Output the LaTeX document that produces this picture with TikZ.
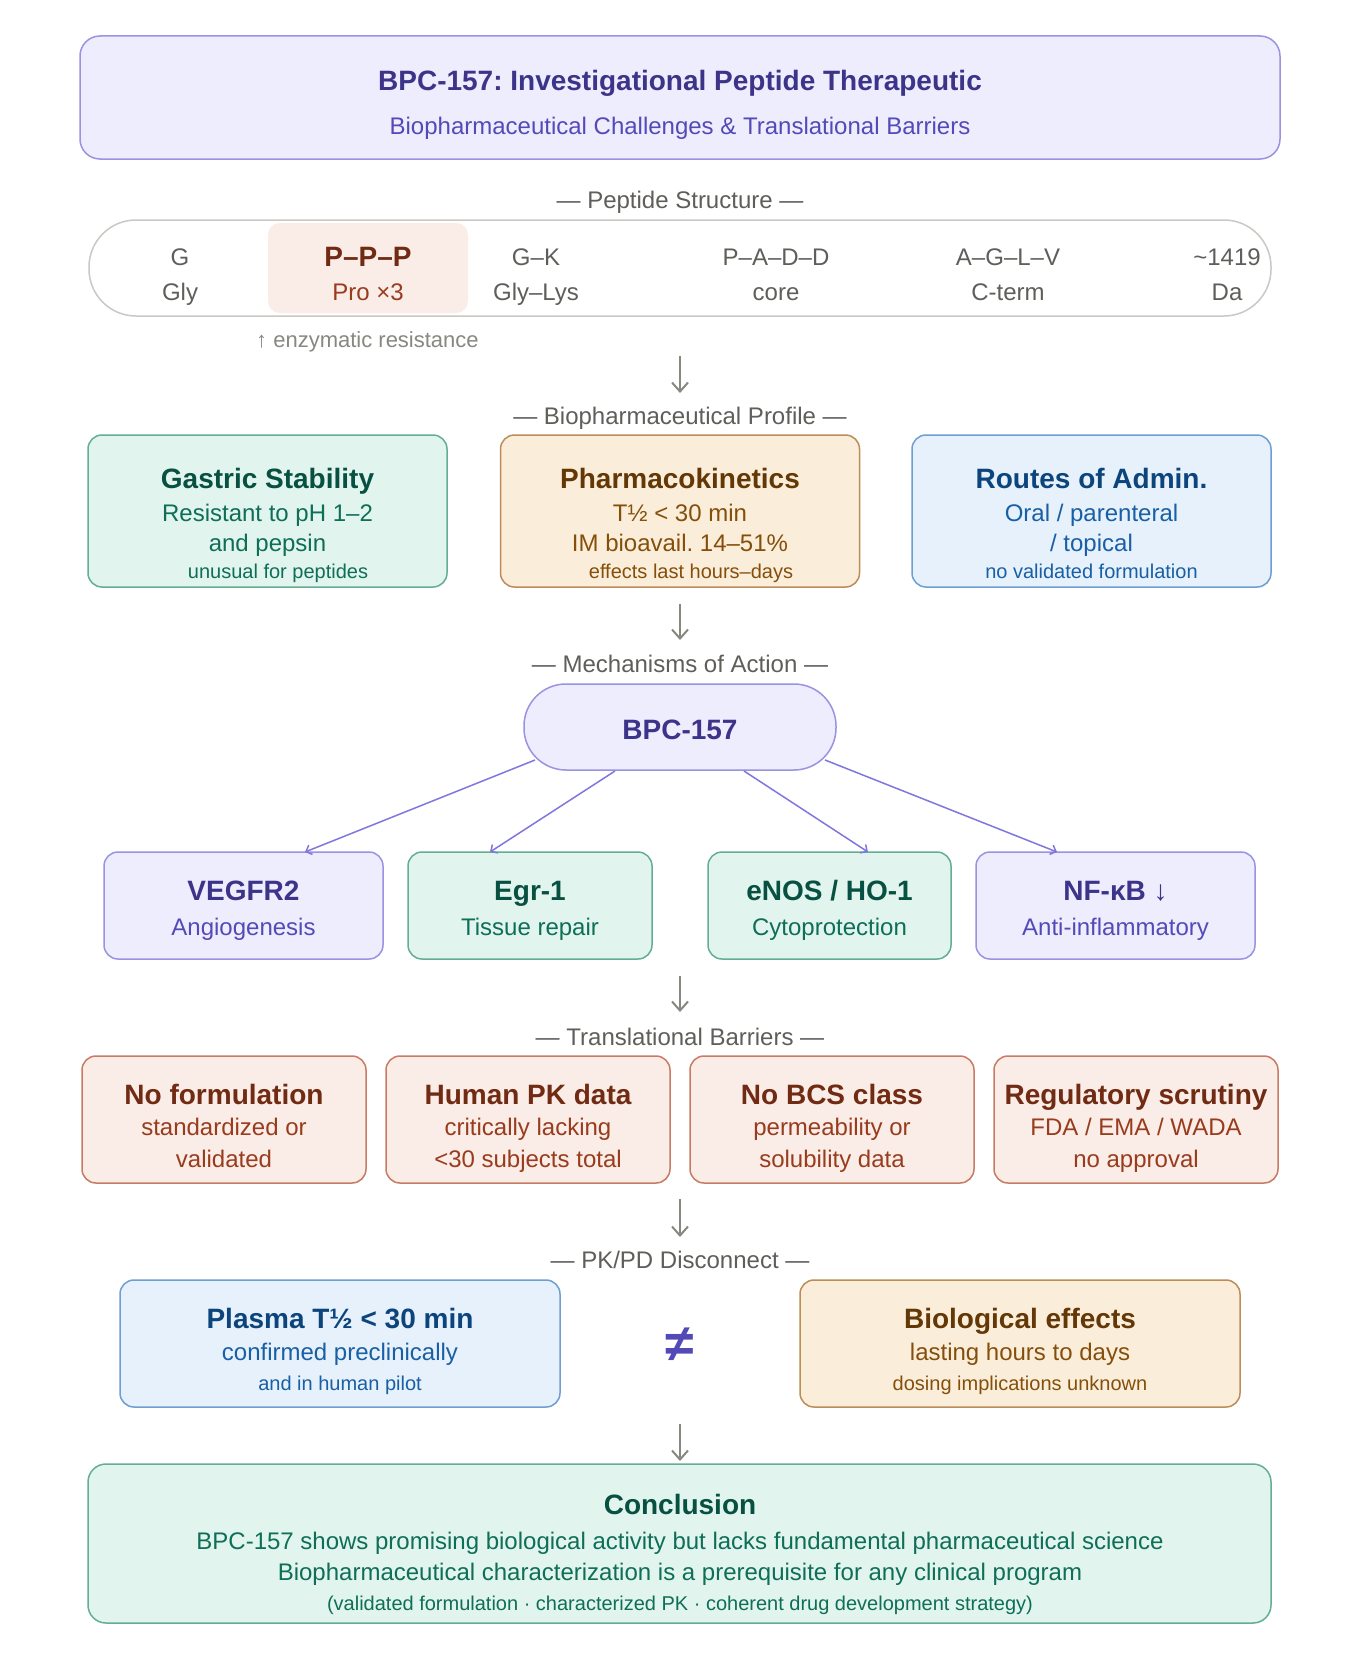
\documentclass[tikz,border=0pt]{standalone}
\usepackage{fontspec}
\setmainfont{Liberation Sans}
\usetikzlibrary{arrows.meta}
\frenchspacing
\definecolor{puFill}{HTML}{EEEDFE}\definecolor{puLine}{HTML}{9A92E2}\definecolor{puDark}{HTML}{3C3489}\definecolor{puText}{HTML}{534AB7}
\definecolor{teFill}{HTML}{E1F5EE}\definecolor{teLine}{HTML}{63AE94}\definecolor{teDark}{HTML}{085041}\definecolor{teText}{HTML}{0F6E56}
\definecolor{amFill}{HTML}{FAEEDA}\definecolor{amLine}{HTML}{BC8D58}\definecolor{amDark}{HTML}{633806}\definecolor{amText}{HTML}{854F0B}
\definecolor{blFill}{HTML}{E6F1FB}\definecolor{blLine}{HTML}{6E9ED2}\definecolor{blDark}{HTML}{0C447C}\definecolor{blText}{HTML}{185FA5}
\definecolor{coFill}{HTML}{FAECE7}\definecolor{coLine}{HTML}{C87B63}\definecolor{coDark}{HTML}{712B13}\definecolor{coText}{HTML}{993C1D}
\definecolor{grText}{HTML}{5F5E5A}\definecolor{grArrow}{HTML}{888780}\definecolor{grLine}{HTML}{CAC8C2}\definecolor{mecArrow}{HTML}{7F77DD}
\newcommand\fbig{\fontsize{28}{32}\selectfont\bfseries}
\newcommand\fmid{\fontsize{24}{28}\selectfont}
\newcommand\fsec{\fontsize{24}{28}\selectfont}
\newcommand\fsmall{\fontsize{20}{24}\selectfont}
\begin{document}
\begin{tikzpicture}[x=1pt,y=-1pt,
  bx/.style={rectangle,rounded corners=14pt,line width=1.5pt,inner sep=0pt,minimum width=#1},
  pubox/.style={bx=#1,fill=puFill,draw=puLine},
  tebox/.style={bx=#1,fill=teFill,draw=teLine},
  ambox/.style={bx=#1,fill=amFill,draw=amLine},
  blbox/.style={bx=#1,fill=blFill,draw=blLine},
  cobox/.style={bx=#1,fill=coFill,draw=coLine},
  tx/.style={anchor=base,inner sep=0pt},
  tbig/.style={tx,font=\fbig},
  tmid/.style={tx,font=\fmid},
  tsmall/.style={tx,font=\fsmall},
  tsec/.style={tx,font=\fsec,text=grText},
  flow/.style={draw=grArrow,line width=2pt,-{Straight Barb[length=9pt,width=16pt,line width=2pt]}},
  mech/.style={draw=mecArrow,line width=1.5pt,-{Straight Barb[length=5pt,width=10pt,line width=1.5pt]}}
]
\path[use as bounding box,fill=white] (0,0) rectangle (1360,1678);

% Title
\node[pubox=1200pt,minimum height=123pt,rounded corners=20pt] (title) at (680,97.5) {};
\node[tbig,text=puDark] (title-t) at (680,90) {BPC-157: Investigational Peptide Therapeutic};
\node[tmid,text=puText] (title-s) at (680,134) {Biopharmaceutical Challenges \& Translational Barriers};

% Peptide structure
\node[tsec] (sec1) at (680,208.5) {— Peptide Structure —};
\node[rectangle,rounded corners=47pt,draw=grLine,fill=white,line width=1.5pt,minimum width=1182pt,minimum height=96pt,inner sep=0pt] (pill) at (680,268) {};
\node[rectangle,rounded corners=12pt,fill=coFill,minimum width=200pt,minimum height=90pt,inner sep=0pt] (hl) at (368,268) {};
\node[tmid,text=grText] (p1a) at (180,265.6) {G};
\node[tmid,text=grText] (p1b) at (180,300.6) {Gly};
\node[tbig,text=coDark] (p2a) at (368,266.5) {P–P–P};
\node[tmid,text=coText] (p2b) at (368,300.6) {Pro ×3};
\node[tmid,text=grText] (p3a) at (536,265.6) {G–K};
\node[tmid,text=grText] (p3b) at (536,300.6) {Gly–Lys};
\node[tmid,text=grText] (p4a) at (776,265.6) {P–A–D–D};
\node[tmid,text=grText] (p4b) at (776,300.6) {core};
\node[tmid,text=grText] (p5a) at (1008,265.6) {A–G–L–V};
\node[tmid,text=grText] (p5b) at (1008,300.6) {C-term};
\node[tmid,text=grText] (p6a) at (1227,265.6) {\textasciitilde1419};
\node[tmid,text=grText] (p6b) at (1227,300.6) {Da};
\node[tx,font=\fontsize{22}{26}\selectfont,text=grArrow,anchor=base west] (enz) at (256,347.5) {↑ enzymatic resistance};

\coordinate (a1s) at (680,356); \coordinate (a1e) at (680,393);
\draw[flow] (a1s) -- (a1e);

% Biopharmaceutical profile
\node[tsec] (sec2) at (680,424.5) {— Biopharmaceutical Profile —};
\node[tebox=359pt,minimum height=152pt] (gs) at (267.5,511) {};
\node[tbig,text=teDark] (gs-t) at (267.5,488) {Gastric Stability};
\node[tmid,text=teText] (gs-1) at (267.5,521.6) {Resistant to pH 1–2};
\node[tmid,text=teText] (gs-2) at (267.5,551.6) {and pepsin};
\node[tsmall,text=teText] (gs-3) at (278,578.5) {unusual for peptides};

\node[ambox=359pt,minimum height=152pt] (pk) at (680,511) {};
\node[tbig,text=amDark] (pk-t) at (680,488) {Pharmacokinetics};
\node[tmid,text=amText] (pk-1) at (680,521.6) {T½ < 30 min};
\node[tmid,text=amText] (pk-2) at (680,551.6) {IM bioavail. 14–51\%};
\node[tsmall,text=amText] (pk-3) at (691,578.5) {effects last hours–days};

\node[blbox=359pt,minimum height=152pt] (ra) at (1091.5,511) {};
\node[tbig,text=blDark] (ra-t) at (1091.5,488) {Routes of Admin.};
\node[tmid,text=blText] (ra-1) at (1091.5,521.6) {Oral / parenteral};
\node[tmid,text=blText] (ra-2) at (1091.5,551.6) {/ topical};
\node[tsmall,text=blText] (ra-3) at (1091.5,578.5) {no validated formulation};

\coordinate (a2s) at (680,604); \coordinate (a2e) at (680,640);
\draw[flow] (a2s) -- (a2e);

% Mechanisms
\node[tsec] (sec3) at (680,672.5) {— Mechanisms of Action —};
\node[pubox=312pt,minimum height=86pt,rounded corners=42pt] (bpc) at (680,727) {};
\node[tbig,text=puDark] (bpc-t) at (680,739) {BPC-157};

\node[pubox=279pt,minimum height=107pt] (vegf) at (243.5,905.5) {};
\node[tbig,text=puDark] (vegf-t) at (243.5,900) {VEGFR2};
\node[tmid,text=puText] (vegf-s) at (243.5,935.6) {Angiogenesis};
\node[tebox=244pt,minimum height=107pt] (egr) at (530,905.5) {};
\node[tbig,text=teDark] (egr-t) at (530,900) {Egr-1};
\node[tmid,text=teText] (egr-s) at (530,935.6) {Tissue repair};
\node[tebox=243pt,minimum height=107pt] (enos) at (829.5,905.5) {};
\node[tbig,text=teDark] (enos-t) at (829.5,900) {eNOS / HO-1};
\node[tmid,text=teText] (enos-s) at (829.5,935.6) {Cytoprotection};
\node[pubox=279pt,minimum height=107pt] (nfkb) at (1115.5,905.5) {};
\node[tbig,text=puDark] (nfkb-t) at (1115.5,900) {NF-κB ↓};
\node[tmid,text=puText] (nfkb-s) at (1115.5,935.6) {Anti-inflammatory};

\coordinate (m1s) at (535,760); \coordinate (m1e) at (305,852);
\coordinate (m2s) at (615,771); \coordinate (m2e) at (490,852);
\coordinate (m3s) at (744,771); \coordinate (m3e) at (868,852);
\coordinate (m4s) at (825,760); \coordinate (m4e) at (1057,852);
\draw[mech] (m1s) -- (m1e);
\draw[mech] (m2s) -- (m2e);
\draw[mech] (m3s) -- (m3e);
\draw[mech] (m4s) -- (m4e);

\coordinate (a3s) at (680,976); \coordinate (a3e) at (680,1012);
\draw[flow] (a3s) -- (a3e);

% Translational barriers
\node[tsec] (sec4) at (680,1045.5) {— Translational Barriers —};
\node[cobox=284pt,minimum height=127pt] (b1) at (224,1119.5) {};
\node[tbig,text=coDark] (b1-t) at (224,1104) {No formulation};
\node[tmid,text=coText] (b1-1) at (224,1135.6) {standardized or};
\node[tmid,text=coText] (b1-2) at (224,1167.6) {validated};
\node[cobox=284pt,minimum height=127pt] (b2) at (528,1119.5) {};
\node[tbig,text=coDark] (b2-t) at (528,1104) {Human PK data};
\node[tmid,text=coText] (b2-1) at (528,1135.6) {critically lacking};
\node[tmid,text=coText] (b2-2) at (528,1167.6) {<30 subjects total};
\node[cobox=284pt,minimum height=127pt] (b3) at (832,1119.5) {};
\node[tbig,text=coDark] (b3-t) at (832,1104) {No BCS class};
\node[tmid,text=coText] (b3-1) at (832,1135.6) {permeability or};
\node[tmid,text=coText] (b3-2) at (832,1167.6) {solubility data};
\node[cobox=284pt,minimum height=127pt] (b4) at (1136,1119.5) {};
\node[tbig,text=coDark] (b4-t) at (1136,1104) {Regulatory scrutiny};
\node[tmid,text=coText] (b4-1) at (1136,1135.6) {FDA / EMA / WADA};
\node[tmid,text=coText] (b4-2) at (1136,1167.6) {no approval};

\coordinate (a4s) at (680,1199); \coordinate (a4e) at (680,1237);
\draw[flow] (a4s) -- (a4e);

% PK/PD disconnect
\node[tsec] (sec5) at (680,1268.5) {— PK/PD Disconnect —};
\node[blbox=440pt,minimum height=127pt] (pkl) at (340,1343.5) {};
\node[tbig,text=blDark] (pkl-t) at (340,1328) {Plasma T½ < 30 min};
\node[tmid,text=blText] (pkl-1) at (340,1360.6) {confirmed preclinically};
\node[tsmall,text=blText] (pkl-2) at (340,1390) {and in human pilot};
\node[ambox=440pt,minimum height=127pt] (pkr) at (1020,1343.5) {};
\node[tbig,text=amDark] (pkr-t) at (1020,1328) {Biological effects};
\node[tmid,text=amText] (pkr-1) at (1020,1360.6) {lasting hours to days};
\node[tsmall,text=amText] (pkr-2) at (1020,1390) {dosing implications unknown};
\node[tx,font=\fontsize{52}{56}\selectfont\bfseries,text=puText] (neq) at (680,1361) {≠};

\coordinate (a5s) at (680,1424); \coordinate (a5e) at (680,1461);
\draw[flow] (a5s) -- (a5e);

% Conclusion
\node[tebox=1183pt,minimum height=159pt,rounded corners=18pt] (conc) at (679.5,1543.5) {};
\node[tbig,text=teDark] (conc-t) at (680,1514) {Conclusion};
\node[tmid,text=teText] (conc-1) at (680,1549.6) {BPC-157 shows promising biological activity but lacks fundamental pharmaceutical science};
\node[tmid,text=teText] (conc-2) at (680,1580.6) {Biopharmaceutical characterization is a prerequisite for any clinical program};
\node[tsmall,text=teText] (conc-3) at (680,1610) {(validated formulation · characterized PK · coherent drug development strategy)};
\end{tikzpicture}
\end{document}
